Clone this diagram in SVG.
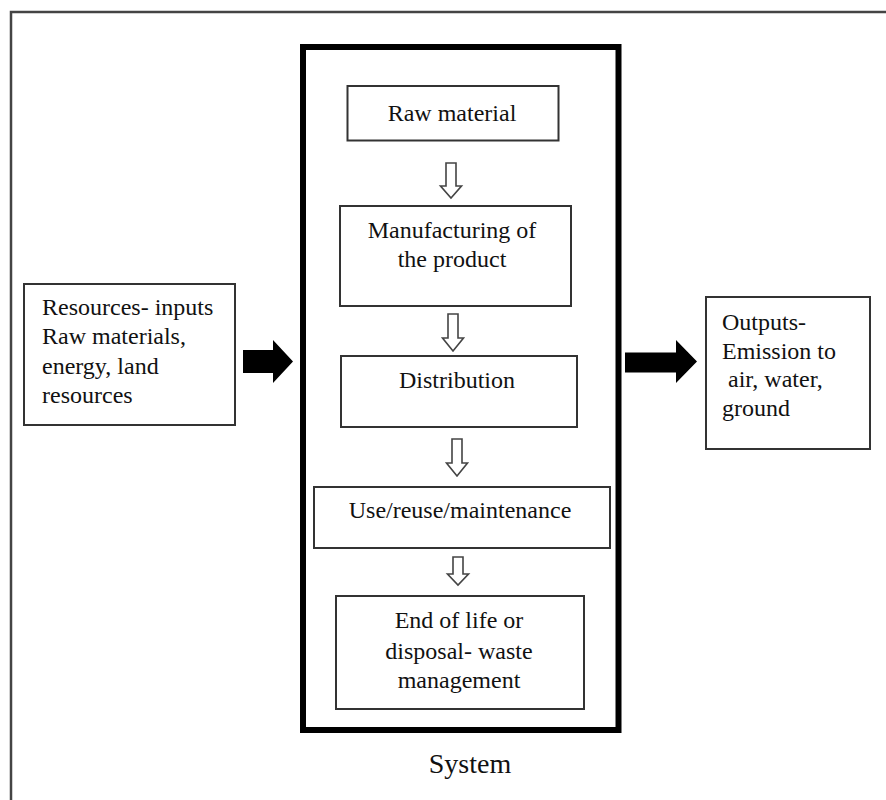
<svg xmlns="http://www.w3.org/2000/svg" width="886" height="800" viewBox="0 0 886 800">
<style>
.box{fill:#fff;stroke:#333;stroke-width:2}
.t{font-family:"Liberation Serif","Times New Roman",serif;font-size:24px;fill:#111}
.c{text-anchor:middle}
.hollow{fill:#fff;stroke:#444;stroke-width:1.6;stroke-linejoin:miter}
.solid{fill:#000}
</style>
<rect x="0" y="0" width="886" height="800" fill="#fff"/>
<rect id="frame" x="11" y="12" width="900" height="820" fill="none" stroke="#444" stroke-width="2.5"/>
<g id="system">
  <rect x="303" y="47" width="315.5" height="683" fill="none" stroke="#000" stroke-width="6"/>
  <text class="t c" x="470" y="773" style="font-size:28px">System</text>
</g>
<g id="raw-material">
  <rect class="box" x="347.5" y="86" width="211" height="54.5"/>
  <text class="t c" x="452" y="121">Raw material</text>
</g>
<g id="manufacturing">
  <rect class="box" x="340" y="206" width="231" height="100"/>
  <text class="t c" x="452" y="238">Manufacturing of</text>
  <text class="t c" x="452" y="267">the product</text>
</g>
<g id="distribution">
  <rect class="box" x="341" y="356" width="236" height="71"/>
  <text class="t c" x="457" y="388">Distribution</text>
</g>
<g id="use">
  <rect class="box" x="314" y="487" width="296" height="61"/>
  <text class="t c" x="460" y="518">Use/reuse/maintenance</text>
</g>
<g id="end-of-life">
  <rect class="box" x="336" y="596" width="248" height="113"/>
  <text class="t c" x="459" y="628">End of life or</text>
  <text class="t c" x="459" y="659">disposal- waste</text>
  <text class="t c" x="459" y="688">management</text>
</g>
<g id="inputs">
  <rect class="box" x="24" y="284" width="211" height="141"/>
  <text class="t" x="42" y="315">Resources- inputs</text>
  <text class="t" x="42" y="344">Raw materials,</text>
  <text class="t" x="42" y="374">energy, land</text>
  <text class="t" x="42" y="403">resources</text>
</g>
<g id="outputs">
  <rect class="box" x="706" y="297" width="164" height="152"/>
  <text class="t" x="722" y="330">Outputs-</text>
  <text class="t" x="722" y="358.5">Emission to</text>
  <text class="t" x="728" y="387">air, water,</text>
  <text class="t" x="722" y="415.5">ground</text>
</g>
<g id="connectors">
  <path class="hollow" d="M446,163 L456,163 L456,186 L461.5,186 L451,198 L440.5,186 L446,186 Z"/>
  <path class="hollow" d="M448,314 L458,314 L458,338 L463.5,338 L453,351 L442.5,338 L448,338 Z"/>
  <path class="hollow" d="M452,439 L462,439 L462,463 L467.5,463 L457,476 L446.5,463 L452,463 Z"/>
  <path class="hollow" d="M453,557 L463,557 L463,574 L468.5,574 L458,585 L447.5,574 L453,574 Z"/>
  <path class="solid" d="M243,350 L273,350 L273,340 L293,361.5 L273,383 L273,373 L243,373 Z"/>
  <path class="solid" d="M625,352.5 L676,352.5 L676,340 L697,361.5 L676,383 L676,372.5 L625,372.5 Z"/>
</g>
</svg>
